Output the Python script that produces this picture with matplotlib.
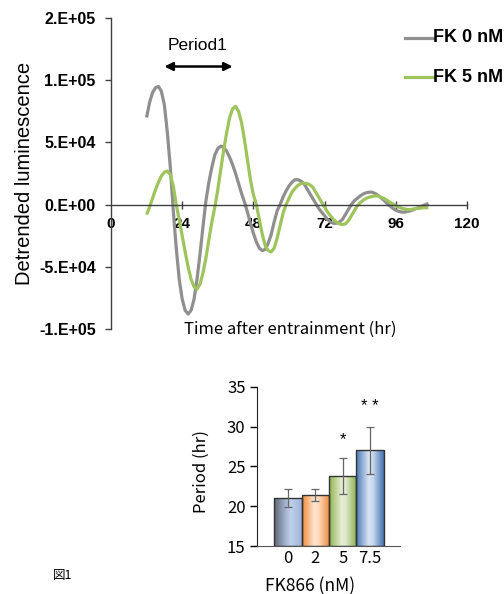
import numpy as np
import matplotlib
matplotlib.use("Agg")
from matplotlib import pyplot as plt
from matplotlib.patches import Rectangle

plt.rcParams['font.family'] = ['Liberation Sans', 'DejaVu Sans']

# ---- top chart data (detrended luminescence, x1e3) ----
hours = list(range(12, 108))
fk0 = [70, 82, 90, 94, 95, 91, 80, 58, 30, -5,
       -35, -60, -76, -85, -88, -85, -76, -60, -40, -18,
       3, 18, 30, 40, 45, 47, 46, 43, 38, 32,
       25, 17, 9, 2, -6, -15, -23, -30, -35, -37,
       -36, -31, -24, -14, -5, 0, 6, 11, 15, 18,
       20, 20, 19, 17, 13, 9, 5, 1, -3, -6,
       -9, -12, -14, -15, -15, -14, -12, -8, -4, 0,
       3, 5, 7, 8.5, 9.5, 10, 10, 9, 7.5, 5.5,
       3.5, 1, -1, -3, -4.5, -5.5, -6, -6, -5.5, -5,
       -4, -3, -2, -1, 0, 1]
fk5 = [-8, -2, 5, 12, 18, 23, 26, 27, 24, 15,
       0, -12, -25, -38, -50, -60, -66, -68, -64, -55,
       -43, -28, -14, -2, 12, 28, 44, 58, 70, 77,
       79, 75, 66, 52, 36, 20, 8, 0, -12, -24,
       -33, -37, -38, -35, -27, -17, -7, 0, 5, 10,
       13, 15.5, 17, 17, 17, 16, 14, 10, 6, 2,
       -2, -6, -9, -12, -14, -15.5, -16, -15.5, -13, -9,
       -5, -1, 1.5, 3.5, 5, 6, 6.5, 7, 7, 6,
       5, 3.5, 2, 0.5, -1, -2, -3, -3.5, -4, -4,
       -3.5, -3, -3, -2.5, -2.5, -2.5]
series_names = ['FK 0 nM', 'FK 5 nM']
x_ticks = [0, 24, 48, 72, 96, 120]
y_ticks = [-1e5, -5e4, 0, 5e4, 1e5, 1.5e5]
y_ticklabels = ['-1.E+05', '-5.E+04', '0.E+00', '5.E+04', '1.E+05', '2.E+05']

# ---- bottom chart data ----
doses = ['0', '2', '5', '7.5']
period = [21.0, 21.4, 23.8, 27.0]
period_err = [1.1, 0.75, 2.3, 2.9]
stars = ['', '', '*', '* *']
star_y = [0, 0, 28.3, 32.5]

gray = '#8f8f8f'
green = '#9ec45c'

fig = plt.figure(figsize=(5.04, 5.94), dpi=100)

ax = fig.add_axes([0.2202, 0.4461, 0.7064, 0.5236])
ax.plot(hours, np.array(fk0) * 1e3, color=gray, lw=2.3, solid_capstyle='butt')
ax.plot(hours, np.array(fk5) * 1e3, color=green, lw=2.3, solid_capstyle='butt')
ax.set_xlim(0, 120)
ax.set_ylim(-1e5, 1.5e5)
ax.spines['top'].set_visible(False)
ax.spines['right'].set_visible(False)
ax.spines['bottom'].set_position(('data', 0))
for s in ['left', 'bottom']:
    ax.spines[s].set_color('#404040')
    ax.spines[s].set_linewidth(1.0)
ax.set_xticks(x_ticks)
ax.set_xticklabels([str(t) for t in x_ticks], fontweight='bold', fontsize=11)
ax.set_yticks(y_ticks)
ax.set_yticklabels(y_ticklabels, fontweight='bold', fontsize=11.5)
ax.tick_params(axis='x', direction='inout', length=6, width=1, color='#404040', pad=6)
ax.tick_params(axis='y', direction='out', length=4, width=1, color='#404040', pad=7)
ax.xaxis.get_major_ticks()[0].tick1line.set_visible(False)

ax.annotate('', xy=(18.0, 1.11e5), xytext=(41.0, 1.11e5),
            arrowprops=dict(arrowstyle='<|-|>', lw=1.8, color='black',
                            mutation_scale=12, shrinkA=0, shrinkB=0))
ax.text(29.3, 1.28e5, 'Period1', ha='center', va='center', fontsize=12.5)

fig.text(25 / 504, 1 - 173 / 594, 'Detrended luminescence', rotation=90,
         ha='center', va='center', fontsize=14.5)
fig.text(290 / 504, 1 - 329 / 594, 'Time after entrainment (hr)',
         ha='center', va='center', fontsize=12,
         family=['Noto Sans CJK JP', 'DejaVu Sans'])

# legend drawn by hand at the right edge
for i, (name, col) in enumerate(zip(series_names, [gray, green])):
    yy = 1 - (38 + 39 * i) / 594
    fig.add_artist(plt.Line2D([405 / 504, 434 / 504], [yy, yy], color=col, lw=2.3,
                              transform=fig.transFigure))
    fig.text(433 / 504, yy, name, ha='left', va='center', fontsize=13, fontweight='bold')

# ---- bottom bar chart ----
bx = fig.add_axes([0.5093, 0.0808, 0.2844, 0.2682])
bx.set_xlim(-1.15, 4.1)
bx.set_ylim(15, 35)
x = np.arange(len(doses))

stops = [
    ['#5f6672', '#a9bad8', '#bfd0ec', '#a0b4d8'],
    ['#f28a3c', '#fde6d2', '#fcd9bd', '#f08a3a'],
    ['#8fb34e', '#e6eed6', '#dfe9cc', '#8ab04a'],
    ['#4a78b6', '#d8e3f2', '#cbd9ee', '#4674b2'],
]
pos = [0.0, 0.45, 0.6, 1.0]
for i in range(len(doses)):
    left = x[i] - 0.5
    rect = Rectangle((left, 15), 1, period[i] - 15, facecolor='none',
                     edgecolor='#333333', lw=1.0, zorder=3)
    bx.add_patch(rect)
    cols = np.array([matplotlib.colors.to_rgb(c) for c in stops[i]])
    u = np.linspace(0, 1, 64)
    grad = np.stack([np.interp(u, pos, cols[:, k]) for k in range(3)], axis=-1)[None, :, :]
    im = bx.imshow(grad, extent=[left, left + 1, 15, period[i]], aspect='auto',
                   zorder=2, interpolation='bilinear')
    im.set_clip_path(rect)

bx.errorbar(x, period, yerr=period_err, fmt='none', ecolor='#666666',
            elinewidth=0.9, capsize=3, capthick=0.9, zorder=4)
for i in range(len(doses)):
    if stars[i]:
        bx.text(x[i], star_y[i], stars[i], ha='center', va='center', fontsize=12)

bx.spines['top'].set_visible(False)
bx.spines['right'].set_visible(False)
bx.spines['left'].set_color('#222222')
bx.spines['bottom'].set_color('#555555')
bx.set_xticks(x)
bx.set_xticklabels(doses)
bx.set_yticks([15, 20, 25, 30, 35])
cjk = ['Noto Sans CJK JP', 'DejaVu Sans']
for lab in bx.get_xticklabels() + bx.get_yticklabels():
    lab.set_family(cjk)
    lab.set_fontsize(12)
bx.tick_params(axis='x', length=0, pad=3)
bx.tick_params(axis='y', direction='out', length=5, width=1, pad=3)

fig.text(201.7 / 504, 1 - 471.7 / 594, 'Period (hr)', rotation=90,
         ha='center', va='center', fontsize=12, family=cjk)
fig.text(310 / 504, 1 - 586 / 594, 'FK866 (nM)', ha='center', va='center',
         fontsize=12.5, family=cjk)
fig.text(53 / 504, 1 - 576 / 594, '図1', ha='left', va='center', fontsize=9, family=cjk)

fig.savefig('out.png', dpi=100)
